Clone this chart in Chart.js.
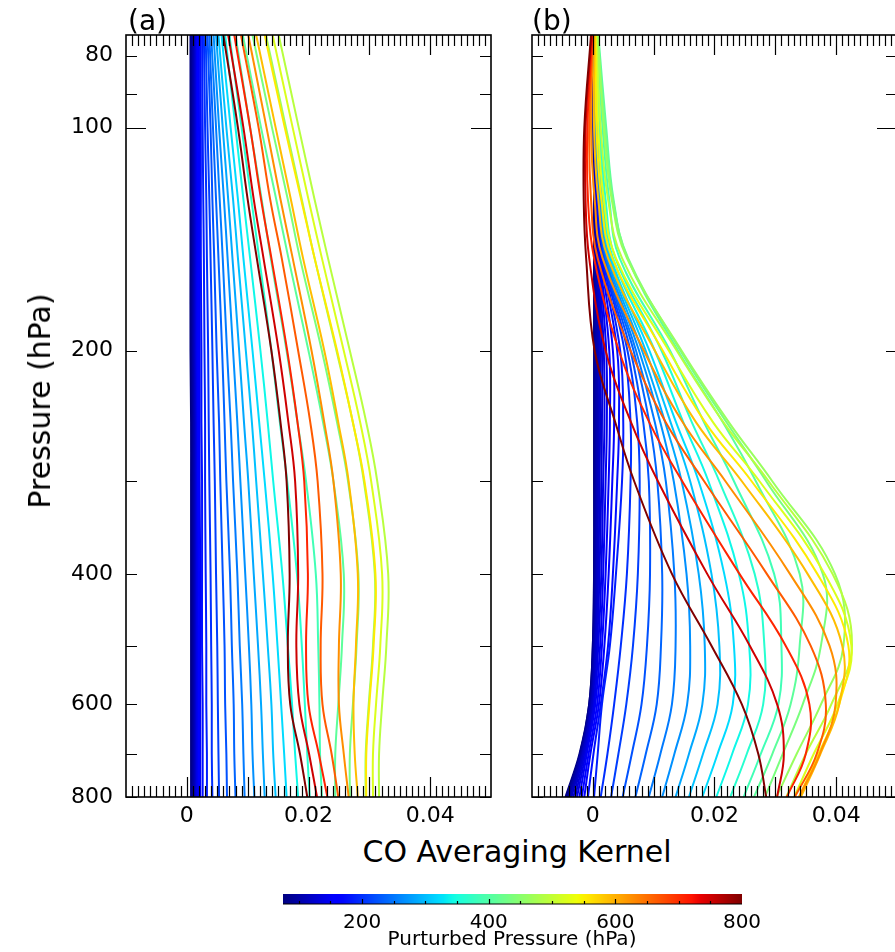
<!DOCTYPE html>
<html>
<head>
<meta charset="utf-8">
<script src="https://cdn.jsdelivr.net/npm/chart.js@4.4.1/dist/chart.umd.min.js"></script>
<style>
  html, body { margin: 0; padding: 0; background: #fff; overflow: hidden; width: 895px; height: 952px; }
  body { position: relative; font-family: 'DejaVu Sans', sans-serif; color: #000; }
  canvas { position: absolute; }
  .lbl { position: absolute; white-space: nowrap; line-height: 1; }
</style>
</head>
<body>
<canvas id="panelA" width="500" height="830" style="left:0;top:0"></canvas>
<canvas id="panelB" width="420" height="830" style="left:500px;top:0"></canvas>
<canvas id="cbar" width="520" height="72" style="left:263px;top:880px"></canvas>
<div class="lbl" style="left:128px;top:7px;font-size:28px">(a)</div>
<div class="lbl" style="left:532px;top:7px;font-size:28px">(b)</div>
<div class="lbl" style="font-size:30px;left:40px;top:401px;transform:translate(-50%,-50%) rotate(-90deg)">Pressure (hPa)</div>
<div class="lbl" style="font-size:30px;left:517px;top:837px;transform:translateX(-50%)">CO Averaging Kernel</div>
<div class="lbl" style="font-size:20px;left:512px;top:928px;transform:translateX(-50%)">Purturbed Pressure (hPa)</div>
<script>
// pressure levels (hPa) each kernel is sampled at
const pressure = [75, 100, 125, 150, 200, 250, 300, 400, 500, 600, 700, 800];

// perturbed level of each curve (hPa), also the colour value
const perturbed = [75, 80, 85, 90, 96, 102, 108, 115, 122, 129, 138, 146, 155, 165, 175, 186, 198, 210, 223, 237,
                   252, 268, 285, 303, 321, 342, 363, 386, 410, 435, 463, 491, 522, 555, 590, 626, 666, 707, 751, 800];

// kernel values in units of 1e-4, one row per perturbed level
const kernelA = [
  [6, 6, 6, 6, 6, 7, 7, 7, 7, 7, 7, 7],
  [7, 7, 7, 7, 7, 8, 8, 8, 8, 8, 8, 8],
  [8, 8, 8, 8, 8, 9, 9, 9, 9, 9, 9, 9],
  [9, 9, 9, 9, 9, 10, 10, 10, 10, 10, 10, 10],
  [10, 10, 10, 10, 10, 11, 11, 11, 11, 11, 11, 11],
  [11, 11, 11, 11, 11, 12, 12, 12, 12, 12, 12, 12],
  [12, 12, 12, 12, 12, 13, 13, 13, 13, 13, 13, 13],
  [13, 13, 13, 13, 13, 14, 14, 14, 14, 14, 14, 14],
  [14, 14, 14, 14, 14, 15, 15, 15, 15, 15, 15, 15],
  [15, 15, 15, 15, 15, 16, 16, 16, 16, 16, 16, 16],
  [16, 16, 16, 16, 16, 17, 17, 17, 17, 17, 17, 17],
  [17, 17, 17, 17, 17, 18, 18, 18, 18, 18, 18, 18],
  [18, 18, 19, 19, 19, 19, 19, 20, 20, 20, 20, 20],
  [20, 20, 21, 21, 21, 21, 21, 22, 22, 22, 22, 22],
  [22, 23, 23, 23, 24, 24, 25, 25, 25, 26, 26, 26],
  [25, 26, 27, 28, 29, 30, 30, 31, 32, 32, 33, 33],
  [28, 30, 32, 33, 35, 36, 37, 39, 40, 41, 41, 42],
  [31, 34, 37, 39, 42, 44, 46, 48, 50, 51, 52, 53],
  [34, 39, 42, 45, 49, 53, 55, 59, 62, 63, 65, 66],
  [37, 43, 48, 52, 58, 62, 65, 71, 74, 77, 78, 80],
  [40, 48, 54, 59, 66, 72, 76, 83, 87, 91, 93, 95],
  [44, 53, 61, 67, 76, 83, 88, 96, 102, 106, 108, 111],
  [48, 59, 68, 75, 86, 94, 101, 110, 117, 122, 125, 128],
  [52, 65, 76, 84, 97, 107, 114, 125, 133, 139, 142, 146],
  [57, 72, 84, 93, 108, 119, 128, 141, 149, 155, 160, 164],
  [63, 80, 93, 104, 121, 133, 142, 157, 166, 173, 178, 183],
  [70, 90, 106, 119, 139, 153, 165, 181, 189, 194, 198, 202],
  [80, 104, 123, 138, 164, 182, 196, 212, 216, 218, 219, 222],
  [92, 122, 147, 167, 200, 224, 241, 258, 255, 249, 244, 244],
  [108, 140, 166, 186, 222, 247, 265, 282, 279, 273, 268, 268],
  [130, 163, 189, 210, 246, 273, 291, 309, 306, 299, 294, 294],
  [151, 184, 210, 232, 268, 295, 313, 331, 328, 321, 316, 316],
  [141, 174, 200, 222, 258, 285, 303, 321, 318, 311, 306, 306],
  [128, 161, 188, 210, 247, 273, 292, 310, 307, 300, 295, 295],
  [114, 146, 171, 191, 226, 249, 266, 281, 278, 274, 276, 281],
  [101, 131, 154, 174, 205, 226, 241, 253, 250, 250, 258, 266],
  [89, 118, 137, 156, 183, 203, 215, 223, 220, 223, 238, 249],
  [78, 104, 122, 139, 165, 182, 193, 199, 196, 200, 217, 231],
  [68, 93, 110, 126, 151, 167, 178, 183, 180, 185, 201, 214],
  [60, 84, 100, 115, 139, 154, 164, 169, 166, 170, 186, 198]
];

const kernelB = [
  [1, 1, 2, 2, 2, 2, 2, 2, 0, -6, -22, -45],
  [1, 1, 2, 2, 3, 3, 3, 2, 0, -6, -21, -44],
  [1, 2, 2, 3, 3, 3, 3, 3, 1, -5, -21, -43],
  [1, 2, 3, 3, 4, 4, 4, 3, 1, -5, -20, -42],
  [1, 2, 3, 4, 5, 5, 5, 4, 2, -4, -20, -41],
  [1, 2, 4, 5, 6, 6, 6, 5, 2, -4, -19, -39],
  [1, 2, 4, 6, 8, 8, 7, 6, 3, -3, -18, -37],
  [1, 3, 5, 7, 10, 10, 9, 7, 4, -2, -17, -35],
  [1, 3, 5, 8, 12, 12, 11, 9, 5, -1, -16, -32],
  [1, 3, 6, 9, 15, 15, 14, 11, 7, 1, -14, -29],
  [1, 3, 6, 10, 18, 19, 17, 14, 9, 2, -12, -26],
  [1, 3, 7, 11, 22, 23, 21, 17, 12, 4, -10, -22],
  [1, 3, 7, 12, 27, 28, 26, 21, 15, 7, -7, -18],
  [1, 3, 8, 14, 33, 35, 32, 26, 19, 10, -4, -14],
  [1, 3, 8, 15, 40, 43, 40, 33, 25, 13, 1, -8],
  [1, 3, 9, 17, 45, 50, 48, 38, 28, 15, 8, 2],
  [1, 3, 9, 18, 52, 62, 62, 56, 46, 35, 24, 13],
  [1, 4, 10, 19, 57, 73, 77, 74, 66, 55, 42, 30],
  [1, 4, 10, 20, 62, 83, 92, 94, 89, 80, 64, 49],
  [1, 4, 11, 21, 67, 93, 106, 114, 112, 105, 87, 70],
  [2, 5, 11, 22, 71, 102, 120, 134, 136, 130, 111, 92],
  [2, 5, 12, 24, 76, 111, 133, 154, 160, 155, 134, 114],
  [2, 6, 13, 26, 81, 119, 146, 174, 184, 180, 158, 136],
  [3, 7, 14, 28, 87, 128, 160, 195, 208, 205, 181, 158],
  [3, 8, 16, 30, 93, 137, 174, 216, 232, 230, 205, 180],
  [4, 10, 18, 33, 102, 149, 190, 240, 257, 255, 229, 203],
  [5, 12, 21, 37, 113, 163, 208, 266, 282, 280, 253, 226],
  [7, 16, 27, 44, 127, 183, 232, 298, 310, 305, 276, 248],
  [9, 22, 34, 57, 140, 214, 268, 340, 340, 325, 295, 265],
  [8, 20, 33, 58, 144, 220, 285, 378, 375, 345, 312, 283],
  [8, 18, 31, 56, 146, 224, 295, 398, 412, 375, 335, 302],
  [6, 13, 25, 48, 138, 215, 289, 394, 426, 392, 350, 318],
  [5, 9, 18, 38, 125, 198, 274, 381, 425, 402, 363, 331],
  [4, 6, 14, 32, 115, 185, 261, 369, 420, 405, 371, 339],
  [3, 2, 9, 25, 102, 170, 245, 353, 410, 405, 374, 342],
  [1, -3, 3, 16, 84, 148, 218, 324, 389, 399, 373, 339],
  [0, -6, -3, 8, 62, 120, 183, 286, 358, 383, 368, 332],
  [-1, -9, -8, 2, 43, 93, 147, 241, 317, 356, 350, 319],
  [-2, -12, -12, -6, 21, 63, 107, 188, 258, 303, 314, 303],
  [-3, -14, -15, -11, 3, 37, 68, 130, 195, 245, 272, 285]
];

// axis ticks
const xLabels = [0, 0.02, 0.04];
const yLabels = [80, 100, 200, 400, 600, 800];
const yTickMarks = [80, 90, 100, 200, 300, 400, 500, 600, 700, 800];
const cbarLabels = [200, 400, 600, 800];

Chart.defaults.font.family = "'DejaVu Sans', sans-serif";
Chart.defaults.color = '#000';

// matplotlib "jet"
const jetR = [[0, 0], [0.35, 0], [0.66, 1], [0.89, 1], [1, 0.5]];
const jetG = [[0, 0], [0.125, 0], [0.375, 1], [0.64, 1], [0.91, 0], [1, 0]];
const jetB = [[0, 0.5], [0.11, 1], [0.34, 1], [0.65, 0], [1, 0]];
function channel(stops, t) {
  for (let i = 1; i < stops.length; i++) {
    if (t <= stops[i][0]) {
      const [t0, v0] = stops[i - 1], [t1, v1] = stops[i];
      return v0 + (v1 - v0) * (t - t0) / (t1 - t0);
    }
  }
  return stops[stops.length - 1][1];
}
function jet(t) {
  t = Math.min(1, Math.max(0, t));
  return 'rgb(' + [jetR, jetG, jetB].map(s => Math.round(channel(s, t) * 255)).join(',') + ')';
}
const pMin = perturbed[0], pMax = perturbed[perturbed.length - 1];

function buildSets(rows) {
  return rows.map((row, i) => ({
    data: pressure.map((p, j) => ({ x: row[j] / 1e4, y: p })),
    borderColor: jet((perturbed[i] - pMin) / (pMax - pMin)),
    borderWidth: 2,
    pointRadius: 0,
    fill: false,
    tension: 0.4,
    order: rows.length - i
  }));
}

// box round the plot with inward ticks on all four sides
const frameTicks = {
  id: 'frameTicks',
  afterDraw(chart) {
    const { ctx, chartArea: a } = chart;
    const x = chart.scales.x, y = chart.scales.y;
    ctx.save();
    ctx.strokeStyle = '#000';
    ctx.lineWidth = 1.2;
    ctx.beginPath();
    for (let k = -9; k <= 49; k++) {
      const px = Math.round(x.getPixelForValue(k / 1000)) + 0.5;
      if (px > a.right) continue;
      const len = k % 10 === 0 ? 20 : 11;
      ctx.moveTo(px, a.bottom); ctx.lineTo(px, a.bottom - len);
      ctx.moveTo(px, a.top); ctx.lineTo(px, a.top + len);
    }
    yTickMarks.forEach(v => {
      const py = Math.round(y.getPixelForValue(v)) + 0.5;
      const len = v === 100 ? 20 : 11;
      ctx.moveTo(a.left, py); ctx.lineTo(a.left + len, py);
      ctx.moveTo(a.right, py); ctx.lineTo(a.right - len, py);
    });
    ctx.stroke();
    ctx.lineWidth = 1.6;
    ctx.strokeRect(a.left, a.top, a.right - a.left, a.bottom - a.top);
    ctx.restore();
  }
};

function panel(id, rows, showY, yWidth, padLeft, padRight) {
  return new Chart(document.getElementById(id), {
    type: 'line',
    data: { datasets: buildSets(rows) },
    options: {
      responsive: false,
      animation: false,
      indexAxis: 'y',
      layout: { padding: { top: 35, left: padLeft, right: padRight, bottom: 0 } },
      plugins: { legend: { display: false }, tooltip: { enabled: false } },
      scales: {
        x: {
          type: 'linear', min: -0.01, max: 0.05,
          afterBuildTicks: s => { s.ticks = xLabels.map(v => ({ value: v })); },
          afterFit: s => { s.height = 33; },
          grid: { display: false, drawTicks: false },
          border: { display: false },
          ticks: { font: { size: 22 }, padding: 6, maxRotation: 0, callback: v => String(v) }
        },
        y: {
          type: 'logarithmic', reverse: true, min: 75, max: 800,
          display: showY,
          afterBuildTicks: s => { s.ticks = yLabels.map(v => ({ value: v })); },
          afterFit: s => { s.width = yWidth; },
          grid: { display: false, drawTicks: false },
          border: { display: false },
          ticks: { font: { size: 22 }, padding: 13, callback: v => String(v) }
        }
      }
    },
    plugins: [frameTicks]
  });
}

panel('panelA', kernelA, true, 126, 0, 9);
panel('panelB', kernelB, false, 0, 32, 23);

// colour bar for the perturbed level
const colorbarFill = {
  id: 'colorbarFill',
  beforeDatasetsDraw(chart) {
    const { ctx, chartArea: a } = chart;
    const x = chart.scales.x;
    const g = ctx.createLinearGradient(a.left, 0, a.right, 0);
    for (let i = 0; i <= 100; i++) g.addColorStop(i / 100, jet(i / 100));
    ctx.save();
    ctx.fillStyle = g;
    ctx.fillRect(a.left, a.top, a.right - a.left, a.bottom - a.top);
    ctx.strokeStyle = '#000';
    ctx.lineWidth = 1.2;
    ctx.beginPath();
    ctx.moveTo(a.left, a.bottom); ctx.lineTo(a.right, a.bottom);
    for (let v = 100; v < pMax; v += 50) {
      const px = Math.round(x.getPixelForValue(v)) + 0.5;
      ctx.moveTo(px, a.bottom); ctx.lineTo(px, a.bottom - (v % 200 === 0 ? 5 : 3));
    }
    ctx.stroke();
    ctx.restore();
  }
};

new Chart(document.getElementById('cbar'), {
  type: 'scatter',
  data: { datasets: [] },
  options: {
    responsive: false,
    animation: false,
    layout: { padding: { top: 14, left: 20, right: 41, bottom: 0 } },
    plugins: { legend: { display: false }, tooltip: { enabled: false } },
    scales: {
      x: {
        type: 'linear', min: pMin, max: pMax,
        afterBuildTicks: s => { s.ticks = cbarLabels.map(v => ({ value: v })); },
        afterFit: s => { s.height = 48; },
        grid: { display: false, drawTicks: false },
        border: { display: false },
        ticks: { font: { size: 20 }, padding: 7, maxRotation: 0, callback: v => String(v) }
      },
      y: { display: false, min: 0, max: 1 }
    }
  },
  plugins: [colorbarFill]
});
</script>
</body>
</html>
